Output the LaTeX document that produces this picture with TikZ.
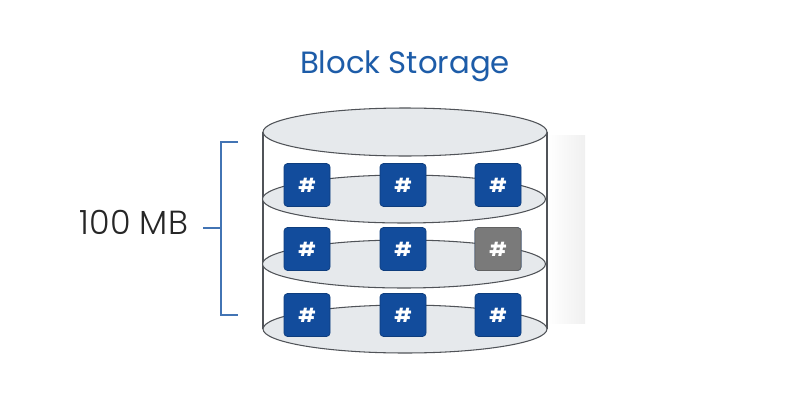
\documentclass[tikz,border=0pt]{standalone}
\usepackage{fontspec}
\setmainfont{Poppins}
\newfontfamily\thinfont{Poppins}[UprightFont=* Light]
\usepackage{tikz}
\usetikzlibrary{shapes.geometric}
\usetikzlibrary{positioning}
\definecolor{slotblue}{HTML}{124C9C}
\definecolor{slotgray}{HTML}{7A7A7A}
\definecolor{disk}{HTML}{E6E9EC}
\definecolor{rim}{HTML}{505358}
\definecolor{brace}{HTML}{4274B4}
\definecolor{titleblue}{HTML}{1D5CA8}
\tikzstyle{platter} = [draw=rim, fill=disk, ellipse, line width=0.6pt,
    minimum width=5.66cm, minimum height=0.96cm, inner sep=0pt]
\tikzstyle{slot} = [draw=slotblue!80!black, fill=slotblue, rectangle, rounded corners=2pt,
    minimum width=0.92cm, minimum height=0.86cm, inner sep=0pt,
    text=white, font=\bfseries\fontsize{11}{11}\selectfont]
\tikzstyle{spare} = [slot, draw=slotgray!80!black, fill=slotgray]

\begin{document}
\begin{tikzpicture}[x=0.02cm, y=-0.02cm]
    \useasboundingbox (0,0) rectangle (800,409);

    % soft shadow right of the drum
    \shade [left color=white, right color=black!6] (548,135) rectangle (585,323);

    % drum body
    \coordinate (topL) at (263,132);
    \coordinate (topR) at (547,132);
    \coordinate (botL) at (263,329);
    \coordinate (botR) at (547,329);
    \fill [white] (topL) rectangle (botR);
    \draw [rim, line width=0.9pt] (topL) -- (botL);
    \draw [rim, line width=0.9pt] (topR) -- (botR);

    \node [platter, minimum width=5.68cm] (lid) at (405,132) {};
    \node [platter] (disk1) at (404,199) {};
    \node [platter] (disk2) at (404,264) {};
    \node [platter, minimum width=5.68cm] (disk3) at (405,329) {};

    % blocks
    \foreach \row/\y in {1/185,2/249,3/315}
        \foreach \col/\x in {1/307,2/403,3/498}
            \node [slot] (s\row\col) at (\x,\y) {\#};
    \node [spare] (s23) at (498,249) {\#};

    % title
    \node [text=titleblue, font=\fontsize{17.5}{19}\selectfont] (title) at (405,66) {Block Storage};

    % size bracket
    \coordinate (brT) at (221,142);
    \coordinate (brB) at (221,315);
    \coordinate (brM) at (221,228);
    \coordinate (tipT) at (238,142);
    \coordinate (tipB) at (238,315);
    \coordinate (tick) at (203,228);
    \draw [brace, line width=0.8pt] (tipT) -- (brT) -- (brB) -- (tipB);
    \draw [brace, line width=0.8pt] (tick) -- (brM);
    \node [left=5pt of tick, yshift=3pt, text=black!85, font=\thinfont\fontsize{19}{21}\selectfont] (size) {100 MB};
\end{tikzpicture}
\end{document}
